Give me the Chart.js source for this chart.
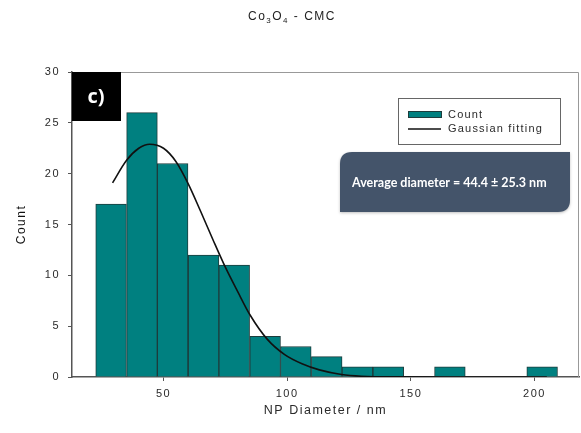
<!DOCTYPE html>
<html>
<head>
<meta charset="utf-8">
<script src="https://cdn.jsdelivr.net/npm/chart.js@4.4.1/dist/chart.umd.min.js"></script>
<style>
  html, body { margin: 0; padding: 0; background: #fff; }
</style>
</head>
<body>
<canvas id="hist" width="581" height="433"></canvas>
<script>
// histogram bins (centre of each bin, nm) and counts
const BIN_CENTERS = [28.8, 41.3, 53.7, 66.2, 78.6, 91.1, 103.5, 116.0, 128.4, 140.9, 153.3, 165.8, 178.2, 190.7, 203.1];
const COUNTS = [17, 26, 21, 12, 11, 4, 3, 2, 1, 1, 0, 1, 0, 0, 1];

// gaussian fit curve
const FIT_X = [29.4, 35, 40, 44.4, 50, 55, 60, 65, 70, 75, 80, 85, 92, 99, 106, 113, 122, 130, 145, 165, 185, 205];
const FIT_Y = [19.1, 21.3, 22.5, 22.9, 22.5, 21.2, 19.0, 16.3, 13.5, 10.8, 8.4, 6.1, 3.7, 2.2, 1.3, 0.7, 0.25, 0.08, 0.01, 0, 0, 0];

const X_TICKS = [50, 100, 150, 200];
const Y_TICKS = [0, 5, 10, 15, 20, 25, 30];

const AVG_LABEL = "Average diameter = 44.4 \u00B1 25.3 nm";
const PANEL_LABEL = "c)";

const TEAL = "#008080";
const BAR_EDGE = "#1d3c3c";
const TEXT = "#2a2a2a";

const canvas = document.getElementById("hist");

function drawTitle(ctx) {
  // Co3O4 - CMC with subscripts
  const parts = [
    { t: "Co", sub: false },
    { t: "3", sub: true },
    { t: "O", sub: false },
    { t: "4", sub: true },
    { t: " - CMC", sub: false }
  ];
  ctx.save();
  ctx.fillStyle = "#222";
  ctx.textBaseline = "middle";
  ctx.textAlign = "left";
  ctx.letterSpacing = "1.5px";
  let total = 0;
  parts.forEach(p => {
    ctx.font = p.sub ? "8px 'Liberation Sans', Arial" : "12px 'Liberation Sans', Arial";
    p.w = ctx.measureText(p.t).width;
    total += p.w;
  });
  let x = 292 - total / 2;
  parts.forEach(p => {
    ctx.font = p.sub ? "8px 'Liberation Sans', Arial" : "12px 'Liberation Sans', Arial";
    ctx.fillText(p.t, x, p.sub ? 21 : 17);
    x += p.w;
  });
  ctx.restore();
}

function drawLegend(chart) {
  const ctx = chart.ctx;
  const barDs = chart.data.datasets[0];
  const lineDs = chart.data.datasets[1];
  ctx.save();
  ctx.fillStyle = "#fff";
  ctx.fillRect(398, 98, 162, 46);
  ctx.strokeStyle = "#666";
  ctx.lineWidth = 1;
  ctx.strokeRect(398.5, 98.5, 162, 46);

  ctx.fillStyle = barDs.backgroundColor;
  ctx.fillRect(408, 111, 33, 6);
  ctx.strokeStyle = barDs.borderColor;
  ctx.strokeRect(408.5, 111.5, 33, 6);

  ctx.strokeStyle = lineDs.borderColor;
  ctx.lineWidth = 1.5;
  ctx.beginPath();
  ctx.moveTo(408, 129);
  ctx.lineTo(441, 129);
  ctx.stroke();

  ctx.fillStyle = TEXT;
  ctx.font = "11px 'Liberation Sans', Arial";
  ctx.letterSpacing = "1.2px";
  ctx.textBaseline = "middle";
  ctx.textAlign = "left";
  ctx.fillText(barDs.label, 448, 115);
  ctx.fillText(lineDs.label, 448, 129);
  ctx.restore();
}

function drawAverageBox(ctx) {
  const x0 = 340, y0 = 152, x1 = 570, y1 = 212, r = 12;
  ctx.save();
  ctx.shadowColor = "rgba(0,0,0,0.25)";
  ctx.shadowBlur = 3;
  ctx.shadowOffsetY = 1;
  ctx.fillStyle = "#44546A";
  ctx.beginPath();
  ctx.moveTo(x0 + r, y0);
  ctx.lineTo(x1, y0);
  ctx.lineTo(x1, y1 - r);
  ctx.quadraticCurveTo(x1, y1, x1 - r, y1);
  ctx.lineTo(x0, y1);
  ctx.lineTo(x0, y0 + r);
  ctx.quadraticCurveTo(x0, y0, x0 + r, y0);
  ctx.closePath();
  ctx.fill();
  ctx.shadowColor = "transparent";
  ctx.fillStyle = "#fff";
  ctx.font = "bold 12.5px Lato, 'Open Sans', sans-serif";
  ctx.letterSpacing = "0px";
  ctx.textBaseline = "middle";
  ctx.textAlign = "left";
  ctx.fillText(AVG_LABEL, 352, 183);
  ctx.restore();
}

function drawPanelLabel(ctx, area) {
  ctx.save();
  ctx.fillStyle = "#000";
  ctx.fillRect(area.left, area.top, 49, 49);
  ctx.fillStyle = "#fff";
  ctx.font = "bold 20px 'Open Sans', Arial";
  ctx.letterSpacing = "0px";
  ctx.textAlign = "center";
  ctx.textBaseline = "middle";
  ctx.fillText(PANEL_LABEL, area.left + 24, area.top + 25);
  ctx.restore();
}

const decorations = {
  id: "decorations",
  beforeDraw(chart) {
    chart.ctx.letterSpacing = "1.5px";
  },
  afterDraw(chart) {
    const ctx = chart.ctx;
    const a = chart.chartArea;
    // top and right frame
    ctx.save();
    ctx.strokeStyle = "#999";
    ctx.lineWidth = 1;
    ctx.beginPath();
    ctx.moveTo(a.left, a.top + 0.5);
    ctx.lineTo(a.right - 0.5, a.top + 0.5);
    ctx.lineTo(a.right - 0.5, a.bottom);
    ctx.stroke();
    ctx.restore();

    drawTitle(ctx);
    drawPanelLabel(ctx, a);
    drawLegend(chart);
    drawAverageBox(ctx);
  }
};

const tickFont = { family: "'Liberation Sans', Arial", size: 11 };

new Chart(canvas, {
  type: "bar",
  data: {
    datasets: [
      {
        type: "bar",
        label: "Count",
        data: BIN_CENTERS.map((x, i) => ({ x, y: COUNTS[i] })),
        backgroundColor: TEAL,
        borderColor: BAR_EDGE,
        borderWidth: 1,
        barPercentage: 1,
        categoryPercentage: 1,
        order: 2
      },
      {
        type: "line",
        label: "Gaussian fitting",
        data: FIT_X.map((x, i) => ({ x, y: FIT_Y[i] })),
        borderColor: "#111",
        borderWidth: 1.6,
        pointRadius: 0,
        cubicInterpolationMode: "monotone",
        fill: false,
        order: 1
      }
    ]
  },
  options: {
    responsive: false,
    animation: false,
    layout: { padding: { top: 72, right: 2, left: 0, bottom: 0 } },
    plugins: {
      legend: { display: false },
      title: { display: false },
      tooltip: { enabled: false }
    },
    scales: {
      x: {
        type: "linear",
        offset: false,
        min: 13,
        max: 218,
        afterBuildTicks: scale => { scale.ticks = X_TICKS.map(v => ({ value: v })); },
        afterFit: scale => { scale.height = 56; },
        grid: { offset: false, drawOnChartArea: false, tickLength: 4, tickColor: "#555" },
        border: { color: "#555", width: 1.5 },
        ticks: { color: TEXT, font: tickFont, padding: 6, maxRotation: 0 },
        title: {
          display: true,
          text: "NP Diameter / nm",
          color: TEXT,
          font: { family: "'Liberation Sans', Arial", size: 12.5 },
          padding: { top: 4, bottom: 15 }
        }
      },
      y: {
        min: 0,
        max: 30,
        afterBuildTicks: scale => { scale.ticks = Y_TICKS.map(v => ({ value: v })); },
        afterFit: scale => { scale.width = 72; },
        grid: { drawOnChartArea: false, tickLength: 4, tickColor: "#555" },
        border: { color: "#555", width: 1.5 },
        ticks: { color: TEXT, font: tickFont, padding: 8 },
        title: {
          display: true,
          text: "Count",
          color: "#111",
          font: { family: "'Liberation Sans', Arial", size: 12 },
          padding: { top: 14, bottom: 0 }
        }
      }
    }
  },
  plugins: [decorations]
});
</script>
</body>
</html>
